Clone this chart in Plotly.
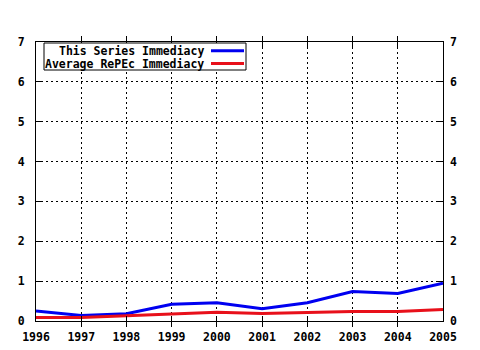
import plotly.graph_objects as go

years = [1996, 1997, 1998, 1999, 2000, 2001, 2002, 2003, 2004, 2005]
series_imm = [0.25, 0.14, 0.18, 0.42, 0.46, 0.31, 0.46, 0.74, 0.69, 0.95]
repec_imm = [0.09, 0.09, 0.13, 0.17, 0.22, 0.19, 0.22, 0.24, 0.24, 0.29]
legend_names = ["This Series Immediacy", "Average RePEc Immediacy"]
colors = ["#0000f0", "#e8101a"]

FONT = dict(family="DejaVu Sans Mono", size=11.5, color="black", weight="bold")
LFONT = dict(family="DejaVu Sans Mono", size=11.5, color="black", weight="bold")

fig = go.Figure()
fig.add_trace(go.Scatter(x=years, y=series_imm, mode="lines",
                         line=dict(color=colors[0], width=3), showlegend=False))
fig.add_trace(go.Scatter(x=years, y=repec_imm, mode="lines",
                         line=dict(color=colors[1], width=3), showlegend=False))
# invisible trace to carry the right-hand axis
fig.add_trace(go.Scatter(x=years, y=repec_imm, yaxis="y2", mode="lines",
                         line=dict(width=0), opacity=0, showlegend=False,
                         hoverinfo="skip"))

axis_common = dict(showline=True, linecolor="black", linewidth=1,
                   ticks="inside", ticklen=5, tickcolor="black",
                   showgrid=True, gridcolor="black", gridwidth=1,
                   griddash="2px,3px", zeroline=False, tickfont=FONT,
                   automargin=False)

fig.update_layout(
    width=480, height=350,
    margin=dict(l=36, r=37, t=42, b=29),
    paper_bgcolor="white", plot_bgcolor="white",
    xaxis=dict(range=[1996, 2005], dtick=1, tick0=1996, mirror="allticks",
               ticklabelstandoff=5, **axis_common),
    yaxis=dict(range=[0, 7], dtick=1, tick0=0, mirror="allticks",
               ticklabelstandoff=8, **axis_common),
    yaxis2=dict(range=[0, 7], dtick=1, tick0=0, overlaying="y", side="right",
                showline=False, ticks="", showgrid=False, zeroline=False,
                ticklabelstandoff=6, tickfont=FONT, automargin=False),
)

# legend drawn manually (text right-aligned, sample on the right)
pw, ph = 407.0, 279.0
def px(x):
    return (x - 36) / pw
def py(y):
    return (321 - y) / ph

fig.add_shape(type="rect", xref="paper", yref="paper",
              x0=px(44), x1=px(246), y0=py(70), y1=py(43),
              line=dict(color="black", width=1), fillcolor="white", layer="above")
for i, (name, col) in enumerate(zip(legend_names, colors)):
    yy = [50.8, 63.6][i]
    fig.add_annotation(xref="paper", yref="paper", x=px(205), y=py(yy),
                       text=name, showarrow=False, xanchor="right",
                       yanchor="middle", font=LFONT, borderpad=0)
    fig.add_shape(type="line", xref="paper", yref="paper",
                  x0=px(211), x1=px(244), y0=py(yy), y1=py(yy),
                  line=dict(color=col, width=3), layer="above")

fig.write_html("out.html")
